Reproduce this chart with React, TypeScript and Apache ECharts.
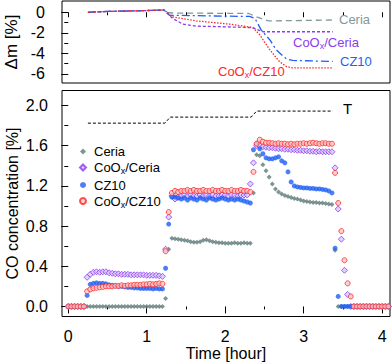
import React, { useEffect, useRef } from 'react';
import * as echarts from 'echarts';

const FONT = "'Liberation Sans', Arial, Helvetica, sans-serif";

// ---- bottom panel: CO concentration, sampled every 0.04 h (index -> time) ----
const SAMPLE_STEP_H = 0.04;

const coCeria = [
  0, 0, 0, 0, 0, 0, 0, 0, 0, 0, 0, 0, 0, 0, 0, 0, 0, 0, 0, 0, 0, 0, 0, 0, 0, 0, 0, 0, 0, 0, 0,
  0.08, 0.57,
  0.68, 0.675, 0.67, 0.665, 0.66, 0.655, 0.645, 0.64, 0.64, 0.645, 0.66, 0.665, 0.655, 0.645, 0.64, 0.635, 0.635, 0.63, 0.63, 0.63, 0.635, 0.63, 0.63, 0.635, 0.63, 0.63,
  1.13, 1.51, 1.5, 1.41, 1.35, 1.29, 1.22, 1.17, 1.14, 1.12, 1.105, 1.095, 1.085, 1.075, 1.07, 1.06, 1.05, 1.045, 1.04, 1.035, 1.035, 1.03, 1.03, 1.025, 1.02, 1.015,
  0.56,
  0, 0, 0, 0, 0, 0, 0, 0, 0, 0, 0, 0, 0, 0, 0, 0, 0,
];

const coCoCeria = [
  0, 0, 0, 0, 0, 0,
  0.29, 0.32, 0.34, 0.345, 0.34, 0.345, 0.345, 0.335, 0.33, 0.325, 0.325, 0.32, 0.32, 0.32, 0.315, 0.315, 0.315, 0.315, 0.315, 0.31, 0.31, 0.31, 0.31, 0.305, 0.3,
  0.57, 0.89,
  1.1, 1.07, 1.09, 1.1, 1.11, 1.1, 1.11, 1.1, 1.1, 1.11, 1.1, 1.11, 1.1, 1.11, 1.1, 1.1, 1.11, 1.11, 1.1, 1.11, 1.11, 1.1, 1.11, 1.11, 1.11,
  1.22,
  1.43, 1.6, 1.6, 1.59, 1.585, 1.58, 1.58, 1.575, 1.57, 1.57, 1.565, 1.565, 1.56, 1.56, 1.555, 1.555, 1.55, 1.55, 1.545, 1.545, 1.54, 1.545, 1.54, 1.54, 1.54, 1.54,
  1.38, 0.97, 0.67, 0.36, 0.12,
  0, 0, 0, 0, 0, 0, 0, 0, 0, 0, 0, 0, 0,
];

const coCZ10 = [
  0, 0, 0, 0, 0, 0,
  0.11, 0.22, 0.23, 0.235, 0.23, 0.23, 0.225, 0.215, 0.21, 0.205, 0.2, 0.2, 0.195, 0.19, 0.19, 0.185, 0.185, 0.18, 0.18, 0.18, 0.18, 0.175, 0.18, 0.175, 0.175,
  0.38, 0.82,
  1.09, 1.09, 1.08, 1.07, 1.08, 1.06, 1.08, 1.07, 1.06, 1.08, 1.07, 1.06, 1.08, 1.07, 1.06, 1.07, 1.08, 1.07, 1.06, 1.07, 1.06, 1.07, 1.06, 1.05, 1.04, 1.03,
  1.56, 1.62, 1.57, 1.52, 1.48, 1.47, 1.47, 1.48, 1.49, 1.45, 1.43, 1.34, 1.24, 1.2, 1.19, 1.185, 1.18, 1.18, 1.175, 1.175, 1.17, 1.17, 1.165, 1.16, 1.15, 1.13,
  0.58, 0.1,
  0, 0, 0, 0, 0, 0, 0, 0, 0, 0, 0, 0, 0, 0, 0, 0,
];

const coCoCZ10 = [
  0, 0, 0, 0, 0, 0,
  0.15, 0.17, 0.18, 0.185, 0.19, 0.195, 0.2, 0.2, 0.2, 0.205, 0.205, 0.21, 0.205, 0.21, 0.21, 0.215, 0.215, 0.215, 0.22, 0.22, 0.225, 0.22, 0.225, 0.23, 0.225,
  0.55, 0.94,
  1.13, 1.15, 1.14, 1.15, 1.15, 1.16, 1.15, 1.16, 1.15, 1.15, 1.16, 1.15, 1.15, 1.16, 1.15, 1.15, 1.16, 1.15, 1.15, 1.16, 1.15, 1.15, 1.16, 1.15, 1.15,
  1.14,
  1.34, 1.62, 1.66, 1.64, 1.63, 1.63, 1.625, 1.62, 1.625, 1.62, 1.62, 1.615, 1.62, 1.615, 1.62, 1.62, 1.625, 1.62, 1.625, 1.63, 1.625, 1.62, 1.625, 1.625, 1.62, 1.62,
  1.33, 1.03, 0.75, 0.46, 0.23, 0.1,
  0, 0, 0, 0, 0, 0, 0, 0, 0, 0, 0, 0,
];

// Temperature profile trace (drawn in CO-axis units)
const tempTimes = [0.25, 1.23, 1.3, 2.33, 2.4, 3.37];
const tempVals = [1.825, 1.825, 1.885, 1.885, 1.945, 1.945];

// ---- top panel: mass change ----
const tgCeriaT = [0.25, 0.5, 1.0, 1.22, 1.27, 1.32, 2.3, 2.4, 2.55, 3.0, 3.37];
const tgCeriaV = [0, 0.08, 0.17, 0.22, 0.0, -0.07, -0.12, -0.45, -0.84, -0.8, -0.75];

const tgCoCeriaT = [0.25, 0.5, 1.0, 1.22, 1.33, 1.46, 1.63, 2.0, 2.35, 2.48, 3.37];
const tgCoCeriaV = [0, 0.08, 0.17, 0.22, -0.6, -1.16, -1.35, -1.42, -1.5, -1.9, -1.9];

const tgCZ10T = [0.25, 0.5, 1.0, 1.22, 1.29, 2.0, 2.31, 2.38, 2.46, 2.57, 2.65, 2.78, 2.86, 3.37];
const tgCZ10V = [0, 0.08, 0.17, 0.22, -0.29, -0.38, -0.4, -0.61, -1.74, -2.7, -3.67, -4.55, -4.7, -4.8];

const tgCoCZ10T = [0.25, 0.5, 1.0, 1.22, 1.33, 1.63, 2.06, 2.35, 2.44, 2.57, 2.69, 2.78, 2.86, 3.37];
const tgCoCZ10V = [0, 0.08, 0.17, 0.22, -0.45, -0.84, -1.16, -1.48, -2.2, -3.67, -4.8, -5.3, -5.42, -5.42];

const xMajor = [0, 1, 2, 3, 4];
const xMinor = [0.5, 1.5, 2.5, 3.5];
const yTopMajor = [-6, -4, -2, 0];
const yTopMinor = [-5, -3, -1];
const yBotMajor = [0, 0.4, 0.8, 1.2, 1.6, 2.0];
const yBotMinor = [0.2, 0.6, 1.0, 1.4, 1.8];

const legendNames = ['Ceria', 'CoOx/Ceria', 'CZ10', 'CoOx/CZ10'];

const COL = {
  ceria: '#5f7a7a',
  ceriaLine: '#809a9a',
  coCeria: '#8a3cf0',
  cz10: '#1f5ff5',
  coCz10: '#ff2626',
};

const pair = (t: number[], v: number[]) => t.map((x, i) => [x, v[i]]);
const sampled = (v: number[]) => v.map((y, i) => [+(i * SAMPLE_STEP_H).toFixed(2), y]);

function xAxes(gridIndex: number, withLabels: boolean): any[] {
  const base = {
    gridIndex,
    type: 'value',
    min: -0.08,
    max: 4.1,
    position: 'bottom',
    axisLine: { show: false },
    splitLine: { show: false },
  };
  return [
    {
      ...base,
      axisTick: { show: true, inside: false, length: withLabels ? 7 : 5, customValues: xMajor, lineStyle: { color: '#000', width: 1 } },
      axisLabel: withLabels
        ? { show: true, customValues: xMajor, fontSize: 16, color: '#000', fontFamily: FONT, margin: 12 }
        : { show: false },
      ...(withLabels
        ? {
            name: 'Time [hour]',
            nameLocation: 'middle',
            nameGap: 29,
            nameMoveOverlap: false,
            nameTextStyle: { fontSize: 16, color: '#000', fontFamily: FONT },
          }
        : {}),
    },
    {
      ...base,
      axisTick: { show: true, inside: false, length: 3, customValues: xMinor, lineStyle: { color: '#000', width: 1 } },
      axisLabel: { show: false },
    },
  ];
}

function yAxes(gridIndex: number, min: number, max: number, major: number[], minor: number[], name: string, margin: number, nameGap: number, nameSize: number, fmt: (v: number) => string): any[] {
  const base = {
    gridIndex,
    type: 'value',
    min,
    max,
    position: 'left',
    axisLine: { show: false },
    splitLine: { show: false },
  };
  return [
    {
      ...base,
      axisTick: { show: true, inside: false, length: 7, customValues: major, lineStyle: { color: '#000', width: 1 } },
      axisLabel: { show: true, customValues: major, fontSize: 16, color: '#000', fontFamily: FONT, margin, formatter: fmt },
      name,
      nameLocation: 'middle',
      nameGap,
      nameMoveOverlap: false,
      nameTextStyle: { fontSize: nameSize, color: '#000', fontFamily: FONT },
    },
    {
      ...base,
      axisTick: { show: true, inside: false, length: 4, customValues: minor, lineStyle: { color: '#000', width: 1 } },
      axisLabel: { show: false },
    },
  ];
}

function labelText(text: string, x: number, y: number, color: string): any {
  return {
    type: 'text',
    left: x,
    top: y,
    z: 100,
    style: {
      text,
      fill: color,
      fontSize: 13,
      fontFamily: FONT,
      rich: { sub: { fontSize: 9, padding: [7, 0, 0, 0], fill: color, fontFamily: FONT } },
    },
  };
}

export default function App() {
  const ref = useRef<HTMLDivElement>(null);

  useEffect(() => {
    if (!ref.current) return;
    const chart = echarts.init(ref.current, null, { renderer: 'svg' });

    const gridBase = {
      left: 62,
      right: 2,
      show: true,
      borderColor: '#000',
      borderWidth: 1,
      backgroundColor: 'transparent',
      containLabel: false,
      outerBoundsMode: 'none',
    };

    const option: any = {
      animation: false,
      backgroundColor: '#fff',
      textStyle: { fontFamily: FONT },
      grid: [
        { ...gridBase, top: 1, height: 82 },
        { ...gridBase, top: 90.5, height: 226 },
      ],
      xAxis: [...xAxes(0, false), ...xAxes(1, true)],
      yAxis: [
        ...yAxes(0, -6.9, 1.1, yTopMajor, yTopMinor, 'Δm [%]', 17, 42, 17, (v: number) => String(v)),
        ...yAxes(1, -0.1, 2.15, yBotMajor, yBotMinor, 'CO concentration [%]', 14, 42, 16, (v: number) => v.toFixed(1)),
      ],
      legend: {
        orient: 'vertical',
        left: 74,
        top: 140,
        itemGap: 3,
        itemWidth: 6,
        itemHeight: 6,
        data: legendNames,
        formatter: (n: string) => n.replace('CoOx', 'CoO{sub|x}'),
        textStyle: {
          fontSize: 13,
          color: '#000',
          fontFamily: FONT,
          padding: [0, 0, 0, 3],
          rich: { sub: { fontSize: 9, padding: [7, 0, 0, 0], fontFamily: FONT } },
        },
      },
      graphic: [
        labelText('Ceria', 339, 13, COL.ceriaLine),
        labelText('CoO{sub|x}/Ceria', 293, 36, COL.coCeria),
        labelText('CZ10', 340, 55, COL.cz10),
        labelText('CoO{sub|x}/CZ10', 218, 65, COL.coCz10),
        { type: 'text', left: 343, top: 101, z: 100, style: { text: 'T', fill: '#000', fontSize: 15, fontFamily: FONT } },
      ],
      series: [
        // top panel lines
        {
          name: 'tg-Ceria', type: 'line', xAxisIndex: 0, yAxisIndex: 0, showSymbol: false, symbol: 'none',
          data: pair(tgCeriaT, tgCeriaV), lineStyle: { color: COL.ceriaLine, width: 1.3, type: [6, 4] },
        },
        {
          name: 'tg-CoCeria', type: 'line', xAxisIndex: 0, yAxisIndex: 0, showSymbol: false, symbol: 'none',
          data: pair(tgCoCeriaT, tgCoCeriaV), lineStyle: { color: COL.coCeria, width: 1.3, type: [3, 2] },
        },
        {
          name: 'tg-CZ10', type: 'line', xAxisIndex: 0, yAxisIndex: 0, showSymbol: false, symbol: 'none',
          data: pair(tgCZ10T, tgCZ10V), lineStyle: { color: COL.cz10, width: 1.3, type: [8, 3, 2, 3] },
        },
        {
          name: 'tg-CoCZ10', type: 'line', xAxisIndex: 0, yAxisIndex: 0, showSymbol: false, symbol: 'none',
          data: pair(tgCoCZ10T, tgCoCZ10V), lineStyle: { color: COL.coCz10, width: 1.3, type: [1.5, 1.5] },
        },
        // temperature trace
        {
          name: 'T', type: 'line', xAxisIndex: 2, yAxisIndex: 2, showSymbol: false, symbol: 'none',
          data: pair(tempTimes, tempVals), lineStyle: { color: '#000', width: 1, type: [3, 2] },
        },
        // CO scatter
        {
          name: 'Ceria', type: 'scatter', xAxisIndex: 2, yAxisIndex: 2, symbol: 'diamond', symbolSize: 5,
          data: sampled(coCeria), itemStyle: { color: COL.ceria },
        },
        {
          name: 'CoOx/Ceria', type: 'scatter', xAxisIndex: 2, yAxisIndex: 2, symbol: 'diamond', symbolSize: 6,
          data: sampled(coCoCeria), itemStyle: { color: '#dcc8ff', borderColor: COL.coCeria, borderWidth: 1 },
        },
        {
          name: 'CZ10', type: 'scatter', xAxisIndex: 2, yAxisIndex: 2, symbol: 'circle', symbolSize: 5,
          data: sampled(coCZ10), itemStyle: { color: COL.cz10 },
        },
        {
          name: 'CoOx/CZ10', type: 'scatter', xAxisIndex: 2, yAxisIndex: 2, symbol: 'circle', symbolSize: 5,
          data: sampled(coCoCZ10), itemStyle: { color: '#ffc4c4', borderColor: COL.coCz10, borderWidth: 1 },
        },
      ],
    };

    chart.setOption(option);
    return () => chart.dispose();
  }, []);

  return (
    <div
      ref={ref}
      style={{ position: 'absolute', left: 0, top: 0, width: 392, height: 364, background: '#fff' }}
    />
  );
}
